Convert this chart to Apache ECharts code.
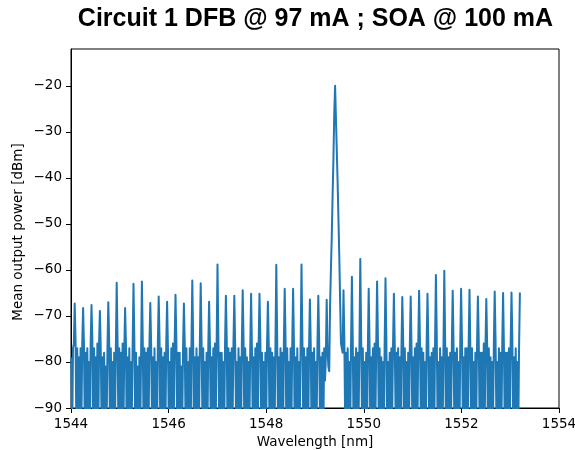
<!DOCTYPE html>
<html>
<head>
<meta charset="utf-8">
<script src="https://cdn.jsdelivr.net/npm/echarts@6/dist/echarts.min.js"></script>
<style>
html,body{margin:0;padding:0;background:#fff;}
#chart{width:575px;height:450px;}
</style>
</head>
<body>
<div id="chart"></div>
<script>
// ---- Data ----
const titleText = "Circuit 1 DFB @ 97 mA ; SOA @ 100 mA";
const yAxisTitle = "Mean output power [dBm]";
const xAxisTitle = "Wavelength [nm]";
const xTicks = [1544, 1546, 1548, 1550, 1552, 1554];
const yTicks = [-90, -80, -70, -60, -50, -40, -30, -20];
// OSA sweep: first sample wavelength and sample step [nm]
const wlStart = 1544.00695;
const wlStep = 0.017213;
// Measured power [dBm], one row per longitudinal mode: peak then floor samples
const powerLead = [-79, -96, -77, -76];
const powerRows = [
  [-67.3, -75, -95, -77, -92, -79, -97, -77, -93, -76],
  [-68.3, -76, -94, -78, -98, -77, -91, -80, -96, -76],
  [-67.6, -75, -97, -77, -93, -79, -95, -76, -99, -76],
  [-68.9, -77, -93, -79, -96, -78, -92, -81, -94, -77],
  [-67.0, -75, -96, -77, -91, -80, -98, -78, -93, -77],
  [-62.8, -75, -94, -77, -97, -78, -93, -76, -95, -78],
  [-68.3, -76, -98, -79, -92, -77, -96, -80, -91, -76],
  [-63.0, -75, -93, -78, -97, -81, -94, -79, -96, -79],
  [-62.5, -75, -95, -77, -92, -78, -99, -77, -93, -76],
  [-67.2, -76, -92, -79, -96, -77, -93, -80, -97, -76],
  [-65.8, -75, -97, -77, -94, -79, -91, -78, -95, -76],
  [-66.9, -77, -93, -80, -98, -77, -95, -76, -92, -76],
  [-65.4, -75, -96, -78, -93, -78, -97, -81, -94, -77],
  [-67.3, -76, -94, -77, -91, -80, -96, -77, -98, -76],
  [-62.3, -75, -98, -79, -95, -77, -92, -79, -93, -76],
  [-62.9, -75, -92, -77, -97, -80, -94, -78, -96, -77],
  [-66.9, -76, -95, -79, -93, -77, -98, -76, -91, -76],
  [-58.8, -74, -93, -78, -96, -78, -92, -80, -95, -76],
  [-65.6, -75, -97, -77, -94, -78, -96, -77, -92, -76],
  [-65.6, -76, -91, -80, -98, -77, -93, -79, -97, -76],
  [-64.4, -75, -96, -77, -92, -79, -95, -80, -94, -77],
  [-65.2, -77, -94, -79, -97, -77, -91, -76, -96, -76],
  [-65.2, -75, -92, -78, -95, -80, -98, -78, -93, -76],
  [-66.9, -76, -97, -77, -93, -78, -94, -79, -95, -76],
  [-58.9, -74, -93, -79, -96, -77, -92, -78, -98, -76],
  [-64.1, -75, -95, -77, -91, -80, -97, -77, -94, -76],
  [-64.1, -76, -98, -79, -94, -77, -93, -80, -92, -76],
  [-58.8, -74, -92, -77, -97, -79, -95, -77, -96, -77],
  [-66.4, -76, -96, -78, -93, -77, -91, -80, -94, -76],
  [-65.6, -75, -93, -79, -98, -78, -96, -77, -84, -79],
  [-66.5, -77, -81, -82, -68, -60, -53, -44, -36, -26],
  [-20.0, -27, -34, -41, -49, -57, -67, -76, -77, -78],
  [-64.4, -75, -94, -78, -97, -77, -92, -80, -95, -76],
  [-61.5, -75, -96, -79, -93, -77, -98, -78, -92, -76],
  [-57.6, -74, -92, -77, -95, -80, -94, -78, -97, -77],
  [-64.1, -76, -97, -79, -91, -77, -96, -76, -93, -76],
  [-62.5, -75, -93, -77, -98, -79, -92, -80, -95, -76],
  [-61.8, -75, -95, -80, -94, -78, -97, -77, -91, -76],
  [-65.2, -76, -91, -78, -96, -77, -93, -79, -98, -77],
  [-65.9, -75, -98, -77, -92, -80, -95, -78, -94, -76],
  [-65.8, -77, -94, -79, -97, -77, -91, -76, -96, -76],
  [-64.5, -75, -92, -77, -95, -78, -98, -80, -93, -76],
  [-65.2, -76, -96, -79, -93, -78, -94, -77, -97, -76],
  [-61.1, -74, -93, -80, -98, -77, -92, -79, -95, -77],
  [-60.2, -75, -97, -77, -91, -79, -96, -78, -93, -76],
  [-64.5, -76, -94, -78, -96, -77, -93, -80, -98, -76],
  [-64.1, -75, -91, -79, -94, -77, -97, -77, -92, -76],
  [-64.3, -77, -96, -77, -92, -80, -95, -78, -94, -76],
  [-65.8, -75, -93, -78, -98, -78, -91, -76, -96, -77],
  [-66.3, -76, -97, -77, -94, -79, -96, -80, -93, -76],
  [-64.7, -75, -92, -80, -97, -77, -93, -78, -95, -76],
  [-65.0, -77, -95, -78, -91, -78, -98, -77, -94, -76],
  [-64.9, -75, -94, -79, -96, -77, -92, -80, -97, -77],
  [-64.9]
];

// ---- Build series data (sample index -> wavelength) ----
const power = powerLead.concat(...powerRows);
const seriesData = power.map((p, i) => [wlStart + i * wlStep, p]);

const fmtMinus = v => String(v).replace('-', '\u2212');
const tickFont = 'DejaVu Sans';

const chart = echarts.init(document.getElementById('chart'), null, {renderer: 'canvas'});
chart.setOption({
  animation: false,
  backgroundColor: '#ffffff',
  grid: {left: 71, right: 16, top: 49, bottom: 42, containLabel: false, outerBoundsMode: 'none',
         show: true, borderColor: '#000', borderWidth: 1, backgroundColor: 'transparent'},
  graphic: [{
    type: 'text', x: 315.5, y: 19,
    style: {text: titleText, font: 'bold 25px "Liberation Sans", Arial, sans-serif', fill: '#000', textAlign: 'center', textVerticalAlign: 'middle'}
  }, {
    type: 'text', x: 18.5, y: 232, rotation: Math.PI / 2,
    style: {text: yAxisTitle, font: '13.5px "DejaVu Sans"', fill: '#000', textAlign: 'center', textVerticalAlign: 'middle'}
  }],
  xAxis: {
    type: 'value', min: 1544, max: 1554, interval: 2,
    name: xAxisTitle, nameLocation: 'middle', nameGap: 27,
    nameTextStyle: {fontFamily: tickFont, fontSize: 13.5, color: '#000'},
    axisLine: {show: true, lineStyle: {color: '#000', width: 1}},
    axisTick: {show: true, length: 5, inside: false, lineStyle: {color: '#000'}, customValues: xTicks},
    axisLabel: {margin: 9, fontFamily: tickFont, fontSize: 13.5, color: '#000', customValues: xTicks, formatter: v => String(v)},
    splitLine: {show: false}
  },
  yAxis: {
    type: 'value', min: -90, max: -12, interval: 10,
    axisLine: {show: true, lineStyle: {color: '#000', width: 1}},
    axisTick: {show: true, length: 5, inside: false, lineStyle: {color: '#000'}, customValues: yTicks},
    axisLabel: {margin: 9, fontFamily: tickFont, fontSize: 13.5, color: '#000', customValues: yTicks, formatter: v => fmtMinus(v)},
    splitLine: {show: false}
  },
  series: [{
    type: 'line', data: seriesData, showSymbol: false, symbol: 'none',
    clip: true,
    lineStyle: {color: '#1f77b4', width: 2, join: 'round'},
    smooth: false
  }]
});
</script>
</body>
</html>
